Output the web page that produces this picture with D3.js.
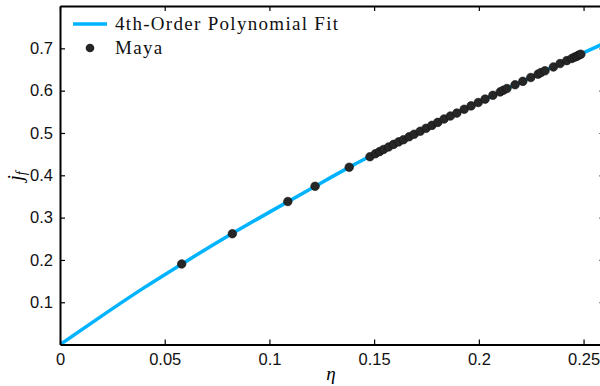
<!DOCTYPE html>
<html><head><meta charset="utf-8">
<script src="https://cdn.jsdelivr.net/npm/d3@7"></script>
<style>body{margin:0;background:#fff}svg{display:block}</style>
</head><body>
<svg id="c" width="600" height="386"></svg>
<script>
// Data
const fitEta = [0, 0.02, 0.04, 0.06, 0.08, 0.10, 0.12, 0.14, 0.16, 0.18, 0.20, 0.22, 0.24, 0.26];
const fitJ   = [0, 0.068, 0.134, 0.196, 0.256, 0.313, 0.369, 0.424, 0.475, 0.524, 0.573, 0.620, 0.667, 0.712];
const mayaEta = [0.0581, 0.0823, 0.1088, 0.1218, 0.1381,
  0.1480, 0.1506, 0.1526, 0.1545, 0.1569, 0.1593, 0.1617, 0.1640, 0.1667, 0.1691,
  0.1720, 0.1748, 0.1776, 0.1804, 0.1834, 0.1864, 0.1895, 0.1930, 0.1963, 0.1997,
  0.2030, 0.2067, 0.2102, 0.2117, 0.2134, 0.2173, 0.2210, 0.2248, 0.2283, 0.2297,
  0.2316, 0.2356, 0.2388, 0.2420, 0.2444, 0.2456, 0.2467, 0.2477, 0.2487];
const mayaJ = [0.1905, 0.262, 0.338, 0.374, 0.419,
  0.444, 0.451, 0.456, 0.461, 0.467, 0.473, 0.479, 0.484, 0.491, 0.497,
  0.504, 0.511, 0.518, 0.525, 0.533, 0.540, 0.547, 0.556, 0.564, 0.572,
  0.580, 0.589, 0.597, 0.601, 0.605, 0.614, 0.622, 0.631, 0.639, 0.643,
  0.647, 0.656, 0.664, 0.671, 0.676, 0.679, 0.681, 0.684, 0.686];
const xTicks = [0, 0.05, 0.1, 0.15, 0.2, 0.25];
const xTickLabels = ["0", "0.05", "0.1", "0.15", "0.2", "0.25"];
const yTicks = [0.1, 0.2, 0.3, 0.4, 0.5, 0.6, 0.7];
const yTickLabels = ["0.1", "0.2", "0.3", "0.4", "0.5", "0.6", "0.7"];
const legendLabels = ["4th-Order Polynomial Fit", "Maya"];

const svg = d3.select("#c");
const L = 60, R = 604.5, T = 6, B = 344.6;
const x = d3.scaleLinear().domain([0, 0.26]).range([L, R]);
const y = d3.scaleLinear().domain([0, 0.8]).range([B, T]);

svg.append("clipPath").attr("id","pc").append("rect")
  .attr("x", L).attr("y", T).attr("width", R - L).attr("height", B - T);

const fitData = fitEta.map((e, i) => [e, fitJ[i]]);
svg.append("path").datum(fitData)
  .attr("clip-path","url(#pc)")
  .attr("fill","none").attr("stroke","#00b3ff").attr("stroke-width",3.5)
  .attr("d", d3.line().x(d => x(d[0])).y(d => y(d[1])).curve(d3.curveMonotoneX));

svg.append("g").selectAll("circle").data(mayaEta.map((e, i) => [e, mayaJ[i]]))
  .join("circle")
  .attr("cx", d => x(d[0])).attr("cy", d => y(d[1])).attr("r", 4.3)
  .attr("fill","#262626").attr("stroke","#111").attr("stroke-width",0.6);

// axes
const tickFont = "'Liberation Sans', Arial, sans-serif";
const xa = svg.append("g").attr("transform",`translate(0,${B})`)
  .call(d3.axisBottom(x).tickValues(xTicks).tickSizeInner(-5).tickSizeOuter(0).tickPadding(9)
    .tickFormat((d, i) => xTickLabels[i]));
const ya = svg.append("g").attr("transform",`translate(${L},0)`)
  .call(d3.axisLeft(y).tickValues(yTicks).tickSizeInner(-5).tickSizeOuter(0).tickPadding(7)
    .tickFormat((d, i) => yTickLabels[i]));
const xt = svg.append("g").attr("transform",`translate(0,${T})`)
  .call(d3.axisTop(x).tickValues(xTicks).tickSizeInner(-5).tickSizeOuter(0).tickFormat(""));
const yr = svg.append("g").attr("transform",`translate(${R},0)`)
  .call(d3.axisRight(y).tickValues(yTicks).tickSizeInner(-5).tickSizeOuter(0).tickFormat(""));
[xa, ya, xt, yr].forEach(g => {
  g.select(".domain").attr("stroke","#000").attr("stroke-width",2);
  g.selectAll(".tick line").attr("stroke","#000").attr("stroke-width",1.2);
  g.selectAll("text").attr("font-family", tickFont).attr("font-size", 16.5).attr("fill","#111");
});
xa.selectAll("text").attr("dy","0.71em");

const serif = "'Liberation Serif', 'Times New Roman', serif";
svg.append("text").attr("x", 331).attr("y", 380).attr("text-anchor","middle")
  .attr("font-family", serif).attr("font-style","italic").attr("font-size",19)
  .text("η");
const yl = svg.append("text").attr("transform","translate(22,176) rotate(-90)").attr("text-anchor","middle")
  .attr("font-family", serif).attr("font-style","italic").attr("font-size",20);
yl.append("tspan").text("j");
yl.append("tspan").attr("font-size",14).attr("dy",4).text("f");

// legend
const lg = svg.append("g").attr("font-family", serif).attr("font-size",19)
  .attr("letter-spacing", 1.3).attr("fill","#111");
lg.append("line").attr("x1",73).attr("x2",107).attr("y1",24).attr("y2",24)
  .attr("stroke","#00b3ff").attr("stroke-width",3.5);
lg.append("text").attr("x",115).attr("y",30).text(legendLabels[0]);
lg.append("circle").attr("cx",90).attr("cy",48).attr("r",4.3).attr("fill","#262626");
lg.append("text").attr("x",115).attr("y",54).text(legendLabels[1]);
</script>
</body></html>
